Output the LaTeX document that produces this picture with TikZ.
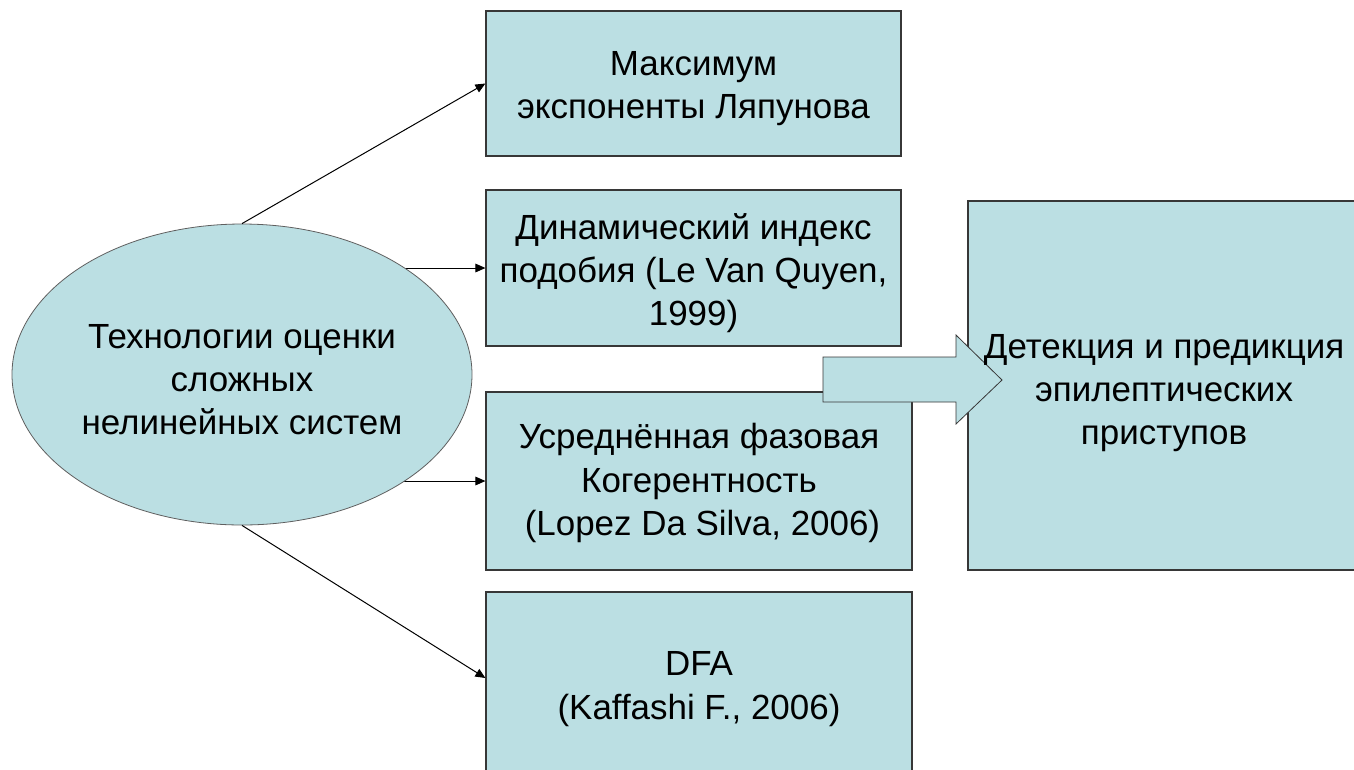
\documentclass[tikz,border=0pt]{standalone}
\usepackage{fontspec}
\setmainfont{Liberation Sans}
\usetikzlibrary{shapes.geometric,arrows.meta}
\pgfdeclarelayer{background}
\pgfsetlayers{background,main}
\definecolor{boxfill}{RGB}{187,223,227}
\definecolor{boxline}{RGB}{55,55,55}
\definecolor{elline}{RGB}{95,95,95}
\tikzset{
  txt/.style={font=\fontsize{26.2pt}{32.4pt}\selectfont, align=center, text=black, inner sep=0pt},
  box/.style={draw=boxline, line width=0.9pt, fill=boxfill, rectangle, inner sep=0pt},
  oval/.style={draw=elline, line width=0.6pt, fill=boxfill, ellipse, inner sep=0pt},
  conn/.style={draw=black, line width=0.75pt, -{Triangle[length=7.5pt,width=6.5pt]}},
  blockarrow/.style={draw=boxline, line width=0.6pt, fill=boxfill}
}
\begin{document}
\begin{tikzpicture}[x=0.75pt,y=-0.75pt]
\useasboundingbox (0,0) rectangle (1354,769);
\clip (0,0) rectangle (1354,769);

\node[box, minimum width=311.25pt, minimum height=108.75pt,
  label={[txt,yshift=-3.75pt]center:{Максимум\\экспоненты Ляпунова}}] (b1) at (693.5,83.5) {};
\node[box, minimum width=311.25pt, minimum height=117pt,
  label={[txt,yshift=-4pt]center:{Динамический индекс\\подобия (Le Van Quyen,\\1999)}}] (b2) at (693.5,268) {};
\node[box, minimum width=319.5pt, minimum height=133.5pt,
  label={[txt,yshift=-1.5pt]center:{Усреднённая фазовая\\Когерентность\\\hspace*{0.2em}(Lopez Da Silva, 2006)}}] (b3) at (699,481) {};
\node[box, minimum width=319.5pt, minimum height=145.5pt,
  label={[txt,yshift=0pt]center:{DFA\\(Kaffashi F., 2006)}}] (b4) at (699,689) {};

\node[oval, minimum width=345pt, minimum height=225.75pt,
  label={[txt,yshift=-3.75pt]center:{Технологии оценки\\сложных\\нелинейных систем}}] (e) at (242,374.5) {};

\node[box, minimum width=294pt, minimum height=276.75pt] (r) at (1164,385.5) {};

\begin{pgfonlayer}{background}
\fill[white] (0,0) rectangle (1354,769);
\draw[conn] (e.center |- b2.west) -- (b2.west);
\draw[conn] (e.center |- b3.west) -- (b3.west);
\end{pgfonlayer}
\draw[conn] (e.north) -- (b1.west);
\draw[conn] (e.south) -- ([yshift=8.25pt]b4.west);

\coordinate (a1) at (823,357);
\coordinate (a2) at (956,357);
\coordinate (a3) at (956,335);
\coordinate (tip) at (1002,380);
\coordinate (a5) at (956,424);
\coordinate (a6) at (956,402);
\coordinate (a7) at (823,402);
\draw[blockarrow] (a1) -- (a2) -- (a3) -- (tip) -- (a5) -- (a6) -- (a7) -- cycle;

\node[txt] (rt) at ([yshift=-5.5pt]r.center)
  {Детекция и предикция\\эпилептических\\приступов};
\end{tikzpicture}
\end{document}
